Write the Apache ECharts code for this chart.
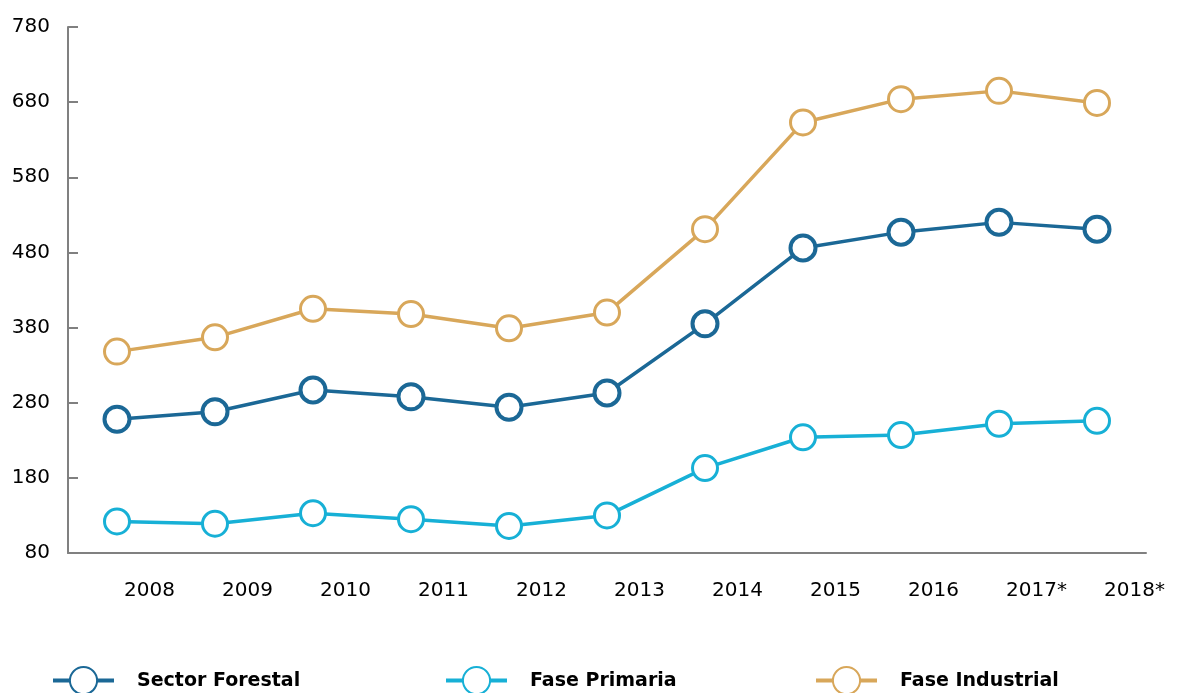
<!DOCTYPE html>
<html>
<head>
<meta charset="utf-8">
<script src="https://cdn.jsdelivr.net/npm/echarts@6/dist/echarts.min.js"></script>
<style>
  html, body { margin: 0; padding: 0; background: #fff; }
  #chart { width: 1181px; height: 693px; }
</style>
</head>
<body>
<div id="chart"></div>
<script>
const years = ['2008', '2009', '2010', '2011', '2012', '2013', '2014', '2015', '2016', '2017*', '2018*']
const sectorForestal = [258, 268, 297, 288, 274, 293, 385, 486, 507, 520, 511]
const fasePrimaria = [122, 119, 133, 125, 116, 130, 193, 234, 237, 252, 256]
const faseIndustrial = [348, 367, 405, 398, 379, 400, 511, 653, 684, 695, 679]
const yTicks = { min: 80, max: 780, step: 100 }

const FONT = 'DejaVu Sans'
const colors = {
  sector: '#1b6896',
  primaria: '#17b0d6',
  industrial: '#d8a75a'
}

const chart = echarts.init(document.getElementById('chart'))

function lineSeries (name, data, color, border) {
  return {
    name: name,
    type: 'line',
    data: data,
    symbol: 'circle',
    symbolSize: 25,
    lineStyle: { color: color, width: 3.5 },
    itemStyle: { color: '#fff', borderColor: color, borderWidth: border },
    emphasis: { disabled: true },
    z: 2
  }
}

// one legend per item, the gaps in the original are uneven
function legendAt (name, left) {
  return {
    data: [name],
    left: left,
    top: 666,
    padding: 0,
    itemWidth: 61,
    itemHeight: 34,
    selectedMode: false,
    lineStyle: { width: 4 },
    textStyle: {
      fontFamily: FONT,
      fontSize: 19,
      fontWeight: 'bold',
      color: '#000',
      padding: [0, 0, 0, 18]
    }
  }
}

const option = {
  animation: false,
  grid: { left: 68, right: 35, top: 27, bottom: 140, containLabel: false },
  legend: [
    legendAt('Sector Forestal', 51),
    legendAt('Fase Primaria', 444),
    legendAt('Fase Industrial', 814)
  ],
  xAxis: {
    type: 'category',
    data: years,
    boundaryGap: true,
    axisLine: { lineStyle: { color: '#808080', width: 2 } },
    axisTick: { inside: true, length: 10, lineStyle: { color: '#808080', width: 2 } },
    axisLabel: {
      fontFamily: FONT,
      fontSize: 20,
      color: '#000',
      margin: 28,
      align: 'left',
      padding: [0, 0, 0, 7]
    }
  },
  yAxis: {
    type: 'value',
    min: yTicks.min,
    max: yTicks.max,
    interval: yTicks.step,
    splitLine: { show: false },
    axisLine: { show: true, lineStyle: { color: '#808080', width: 2 } },
    axisTick: { show: true, inside: true, length: 10, lineStyle: { color: '#808080', width: 2 } },
    axisLabel: {
      fontFamily: FONT,
      fontSize: 20,
      color: '#000',
      margin: 18
    }
  },
  series: [
    lineSeries('Sector Forestal', sectorForestal, colors.sector, 4),
    lineSeries('Fase Primaria', fasePrimaria, colors.primaria, 3),
    lineSeries('Fase Industrial', faseIndustrial, colors.industrial, 3)
  ]
}

chart.setOption(option)
</script>
</body>
</html>
